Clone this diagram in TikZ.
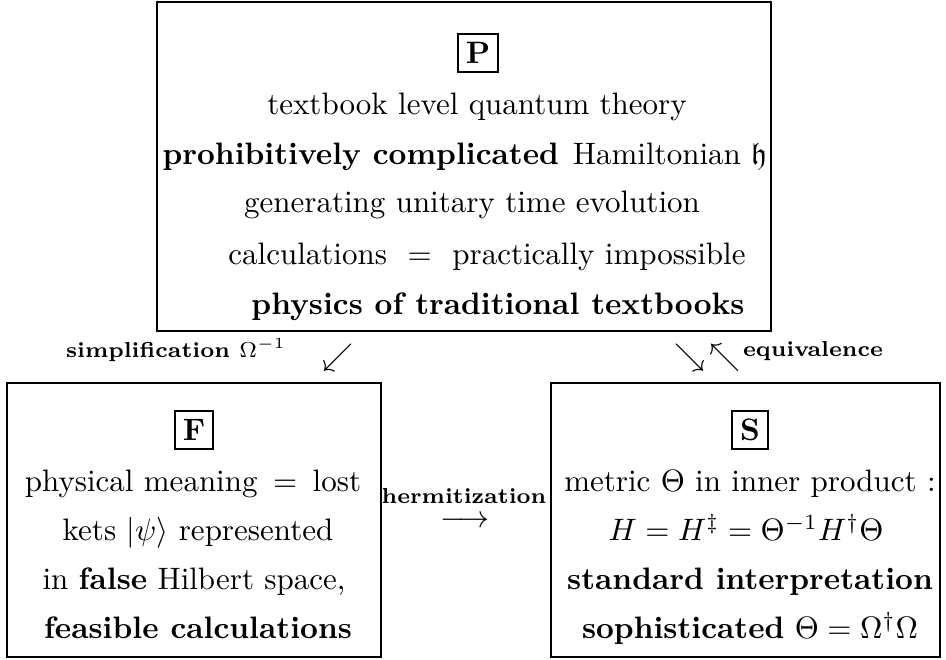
\documentclass[tikz,border=0pt]{standalone}
\usepackage{amssymb}
\usetikzlibrary{fit}
\begin{document}
\begin{tikzpicture}[x=0.32258pt,y=-0.32258pt,
  outerbox/.style={draw,line width=0.8pt,inner sep=0pt},
  tagbox/.style={draw,line width=0.55pt,inner xsep=2.5pt,inner ysep=2.7pt,font=\bfseries},
  txt/.style={anchor=base,inner sep=0pt},
  lbl/.style={anchor=base,inner sep=0pt,font=\scriptsize\bfseries},
  glyph/.style={inner sep=0pt}]
\useasboundingbox (0,0) rectangle (946,660);
% outer boxes
\coordinate (p1) at (157,2);  \coordinate (p2) at (771,331);
\coordinate (f1) at (7,383);  \coordinate (f2) at (381,657);
\coordinate (s1) at (551,383); \coordinate (s2) at (940,657);
\node[outerbox,fit=(p1)(p2)] (P) {};
\node[outerbox,fit=(f1)(f2)] (F) {};
\node[outerbox,fit=(s1)(s2)] (S) {};
% P box
\node[tagbox] (Ptag) at (478,53) {P};
\node[txt] (P1) at (477,115) {textbook level quantum theory};
\node[txt] (P2) at (465,165) {\textbf{prohibitively complicated}\hspace{4.5pt}Hamiltonian $\mathfrak{h}$};
\node[txt] (P3) at (472,213) {generating unitary time evolution};
\node[txt] (P4) at (487,265) {calculations\ \ $=$\ \ practically impossible};
\node[txt] (P5) at (498,315) {\textbf{physics of traditional textbooks}};
% F box
\node[tagbox] (Ftag) at (194,430) {F};
\node[txt] (F1) at (193,492) {physical meaning $\,=\,$ lost};
\node[txt] (F2) at (198,541) {kets $|\psi\rangle$ represented};
\node[txt] (F3) at (194,590) {in \textbf{false} Hilbert space,};
\node[txt] (F4) at (198,639) {\textbf{feasible calculations}};
% S box
\node[tagbox] (Stag) at (750,430) {S};
\node[txt] (S1) at (750,492) {metric $\Theta$ in inner product :};
\node[txt] (S2) at (746,541) {$H=H^{\ddagger}=\Theta^{-1}H^{\dagger}\Theta$};
\node[txt] (S3) at (750,590) {\textbf{standard interpretation}};
\node[txt] (S4) at (750,639) {\textbf{sophisticated} $\Theta=\Omega^{\dagger}\Omega$};
% arrows and labels
\node[lbl] (Lsimp) at (176,358) {simplification $\Omega^{-1}$};
\node[glyph] (Asw) at (338,358) {$\swarrow$};
\node[glyph] (Ase) at (690,358) {$\searrow$};
\node[glyph] (Anw) at (725,358) {$\nwarrow$};
\node[lbl] (Lher) at (464,504) {hermitization};
\node[lbl] (Leq) at (813,357) {equivalence};
\node[glyph] (Alr) at (465,522) {$\longrightarrow$};
\end{tikzpicture}
\end{document}
